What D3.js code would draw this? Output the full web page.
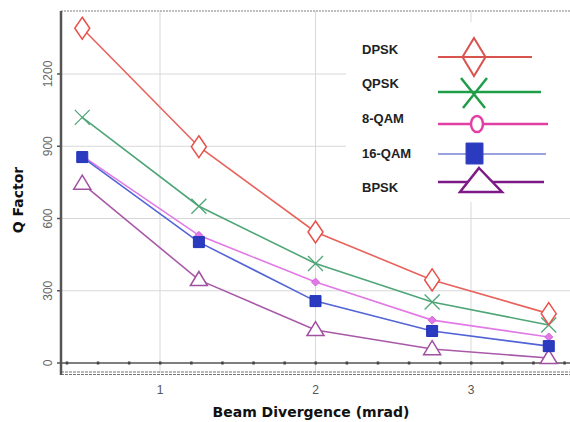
<!DOCTYPE html>
<html><head><meta charset="utf-8">
<script src="https://cdn.jsdelivr.net/npm/d3@7"></script>
<style>body{margin:0;background:#fff}svg{display:block}</style>
</head><body>
<script>
const xValues = [0.5, 1.25, 2, 2.75, 3.5];
const seriesNames = ["DPSK", "QPSK", "8-QAM", "16-QAM", "BPSK"];
const dpsk  = [1390, 898, 544, 345, 205];
const qpsk  = [1020, 651, 413, 253, 158];
const qam8  = [860, 530, 336, 178, 108];
const qam16 = [855, 502, 257, 133, 70];
const bpsk  = [745, 345, 137, 58, 21];
const xTicks = [1, 2, 3];
const yTicks = [0, 300, 600, 900, 1200];

(function () {
const W = 570, H = 422;
const svg = d3.select("body").append("svg").attr("width", W).attr("height", H);
svg.append("rect").attr("width", W).attr("height", H).attr("fill", "#fff");

const x = d3.scaleLinear().domain([1, 3]).range([160, 471]);
const y = d3.scaleLinear().domain([0, 1200]).range([363, 74]);
const pLeft = 61, pRight = 570, pTop = 11, pBottom = 373;

// gridlines
const g = svg.append("g");
g.selectAll(".gx").data(xTicks).enter().append("line")
  .attr("x1", d => x(d)).attr("x2", d => x(d)).attr("y1", pTop).attr("y2", pBottom)
  .attr("stroke", "#d8d8d8").attr("stroke-width", 1);
g.selectAll(".gy").data(yTicks.filter(d => d > 0)).enter().append("line")
  .attr("x1", pLeft).attr("x2", pRight).attr("y1", d => y(d)).attr("y2", d => y(d))
  .attr("stroke", "#d8d8d8").attr("stroke-width", 1);

// frame
svg.append("line").attr("x1", pLeft).attr("x2", pRight).attr("y1", pTop).attr("y2", pTop)
  .attr("stroke", "#aaa").attr("stroke-width", 1.5).attr("stroke-dasharray", "2,1");
svg.append("line").attr("x1", pLeft).attr("x2", pRight).attr("y1", pBottom - 1).attr("y2", pBottom - 1)
  .attr("stroke", "#777").attr("stroke-width", 1).attr("stroke-dasharray", "3,1");
svg.append("line").attr("x1", pLeft).attr("x2", pRight).attr("y1", pBottom + 1.5).attr("y2", pBottom + 1.5)
  .attr("stroke", "#777").attr("stroke-width", 1).attr("stroke-dasharray", "3,1");
svg.append("line").attr("x1", pLeft).attr("x2", pLeft).attr("y1", pTop).attr("y2", pBottom + 2)
  .attr("stroke", "#555").attr("stroke-width", 2.5);

// zero line with minor ticks
svg.append("line").attr("x1", pLeft).attr("x2", pRight).attr("y1", y(0)).attr("y2", y(0))
  .attr("stroke", "#555").attr("stroke-width", 1.5);
const minor = d3.range(0.4, 3.65, 0.2);
svg.selectAll(".mt").data(minor).enter().append("rect")
  .attr("x", d => x(d) - 1).attr("y", y(0) - 1.5).attr("width", 2.5).attr("height", 3)
  .attr("fill", "#444");

// y ticks
svg.selectAll(".yt").data(yTicks).enter().append("line")
  .attr("x1", pLeft - 4).attr("x2", pLeft).attr("y1", d => y(d)).attr("y2", d => y(d))
  .attr("stroke", "#555").attr("stroke-width", 1.5);
svg.selectAll(".yl").data(yTicks).enter().append("text")
  .attr("transform", d => `translate(52,${y(d)}) rotate(-90)`)
  .attr("text-anchor", "middle").attr("font-family", "Liberation Sans, Arial, sans-serif")
  .attr("font-size", 12).attr("fill", "#666").text(d => d);
svg.selectAll(".xl").data(xTicks).enter().append("text")
  .attr("x", d => x(d)).attr("y", 394).attr("text-anchor", "middle")
  .attr("font-family", "Liberation Sans, Arial, sans-serif")
  .attr("font-size", 12).attr("fill", "#555").text(d => d);

// axis titles
svg.append("text").attr("x", 311).attr("y", 417).attr("text-anchor", "middle")
  .attr("font-family", "DejaVu Sans, sans-serif").attr("font-weight", "bold")
  .attr("font-size", 14).attr("fill", "#111").text("Beam Divergence (mrad)");
svg.append("text").attr("transform", "translate(23,200) rotate(-90)").attr("text-anchor", "middle")
  .attr("font-family", "DejaVu Sans, sans-serif").attr("font-weight", "bold")
  .attr("font-size", 14).attr("fill", "#111").text("Q Factor");

// marker path helpers
function diamond(w, h) { return `M0,${-h/2}L${w/2},0L0,${h/2}L${-w/2},0Z`; }
function cross(s) { return `M${-s},${-s}L${s},${s}M${-s},${s}L${s},${-s}`; }
function tri(w, h) { return `M0,${-h*0.6}L${w/2},${h*0.4}L${-w/2},${h*0.4}Z`; }
function square(s) { return `M${-s},${-s}H${s}V${s}H${-s}Z`; }

const series = [
  {name: seriesNames[0], vals: dpsk, line: "#e8625c", mk: "#e8504a",
   path: diamond(15, 22), fill: "#fff", sw: 1.5,
   lpath: diamond(23, 38), lfill: "none", lline: "#d9534f", lsw: 2},
  {name: seriesNames[1], vals: qpsk, line: "#4ea677", mk: "#4ea677",
   path: cross(7.5), fill: "none", sw: 1.3,
   lpath: "M-14,-14L10,16M-12,16L12,-14", lfill: "none", lline: "#1e9e48", lsw: 2.5},
  {name: seriesNames[2], vals: qam8, line: "#e27ae6", mk: "#d660dc",
   path: diamond(8, 8), fill: "#e07ae4", sw: 1,
   lpath: "M0,-8A6,8 0 1,1 0,8A6,8 0 1,1 0,-8Z", lfill: "#fff", lline: "#e23fa4", lsw: 2.5},
  {name: seriesNames[3], vals: qam16, line: "#5264d6", mk: "#2233bb",
   path: square(5.5), fill: "#2a3bbf", sw: 1,
   lpath: "M-8,-11H9V10H-8Z", lfill: "#2a3bbf", lline: "#3444c0", lsw: 1},
  {name: seriesNames[4], vals: bpsk, line: "#a85aa8", mk: "#a14fa1",
   path: tri(17, 14), fill: "#fff", sw: 1.5,
   lpath: "M0,-14L23,10L-19,10Z", lfill: "#fff", lline: "#7d1a87", lsw: 2.5}
];

const drawOrder = [4, 2, 3, 1, 0];
const lineGen = d3.line().x(d => x(d[0])).y(d => y(d[1]));
drawOrder.forEach(k => {
  const s = series[k];
  const pts = xValues.map((v, i) => [v, s.vals[i]]);
  svg.append("path").attr("d", lineGen(pts)).attr("fill", "none")
    .attr("stroke", s.line).attr("stroke-width", 1.6);
});
drawOrder.forEach(k => {
  const s = series[k];
  const pts = xValues.map((v, i) => [v, s.vals[i]]);
  svg.selectAll(null).data(pts).enter().append("path")
    .attr("transform", d => `translate(${x(d[0])},${y(d[1])})`)
    .attr("d", s.path).attr("fill", s.fill).attr("stroke", s.mk).attr("stroke-width", s.sw);
});

// legend (white box over grid)
svg.append("rect").attr("x", 346).attr("y", 22).attr("width", 224).attr("height", 180).attr("fill", "#fff");
const legY = [57, 92, 124, 154, 182];
const labY = [49, 83, 118, 153, 187];
const legX2 = [532, 541, 548, 546, 544];
const legMX = [474, 475, 477, 474, 479];
series.forEach((s, i) => {
  const ly = legY[i];
  svg.append("text").attr("x", 362).attr("y", labY[i] + 4.5)
    .attr("font-family", "Liberation Sans Narrow, Liberation Sans, Arial, sans-serif")
    .attr("font-weight", "bold").attr("font-size", 13).attr("fill", "#222").text(s.name);
  svg.append("line").attr("x1", 438).attr("x2", legX2[i]).attr("y1", ly).attr("y2", ly)
    .attr("stroke", s.lline).attr("stroke-width", s.lsw);
  svg.append("path").attr("transform", `translate(${legMX[i]},${ly})`)
    .attr("d", s.lpath).attr("fill", s.lfill).attr("stroke", s.lline).attr("stroke-width", s.lsw);
});
})();
</script>
</body></html>
